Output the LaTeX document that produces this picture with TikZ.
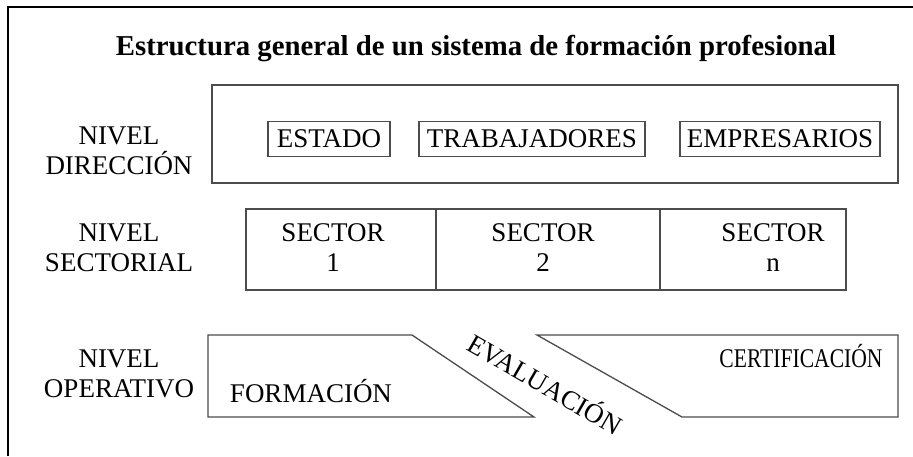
\documentclass[tikz,border=0pt]{standalone}
\usepackage{fontspec}
\setmainfont{Liberation Serif}

\begin{document}
\begin{tikzpicture}[x=1pt,y=-1pt]
        \tikzstyle{every node}+=[inner sep=0pt, font=\fontsize{27}{30}\selectfont]
        \tikzstyle{caja}=[draw=black!70, line width=1.3pt]
        \tikzstyle{nivel}=[align=center]
        \useasboundingbox (0,0) rectangle (913,456);
        \draw [black, line width=1.6pt] (8,456) -- (8,7) -- (913,7);
        \node [anchor=base, font=\fontsize{28.8}{30}\selectfont\bfseries] (titulo) at (476,55) {Estructura general de un sistema de formación profesional};
        % nivel direccion
        \draw [caja] (212,85) rectangle (898,183);
        \node [nivel] (ndir) at (119,151) {NIVEL\\DIRECCIÓN};
        \node [caja, minimum width=122pt, minimum height=35pt] (estado) at (329,139) {ESTADO};
        \node [caja, minimum width=226pt, minimum height=35pt] (trab) at (532,139) {TRABAJADORES};
        \node [caja, minimum width=200pt, minimum height=35pt] (empr) at (780,139) {EMPRESARIOS};
        % nivel sectorial
        \node [nivel] (nsec) at (119,248) {NIVEL\\SECTORIAL};
        \draw [caja] (246,209) rectangle (846,290);
        \draw [caja] (436,209) -- (436,290);
        \draw [caja] (660,209) -- (660,290);
        \node [nivel] (sec1) at (333,248) {SECTOR\\1};
        \node [nivel] (sec2) at (543,248) {SECTOR\\2};
        \node [nivel] (secn) at (773,248) {SECTOR\\n};
        % nivel operativo
        \node [nivel] (nope) at (119,374) {NIVEL\\OPERATIVO};
        \draw [caja] (208,335) -- (412,335) -- (534,417) -- (208,417) -- cycle;
        \draw [caja] (537,335) -- (898,335) -- (898,417) -- (682,417) -- cycle;
        \node [anchor=base] (form) at (311,402) {FORMACIÓN};
        \node [anchor=base, xscale=0.8, transform shape] (cert) at (801,367) {CERTIFICACIÓN};
        \node [rotate=-30] (eval) at (546,383) {EVALUACIÓN};
\end{tikzpicture}
\end{document}
